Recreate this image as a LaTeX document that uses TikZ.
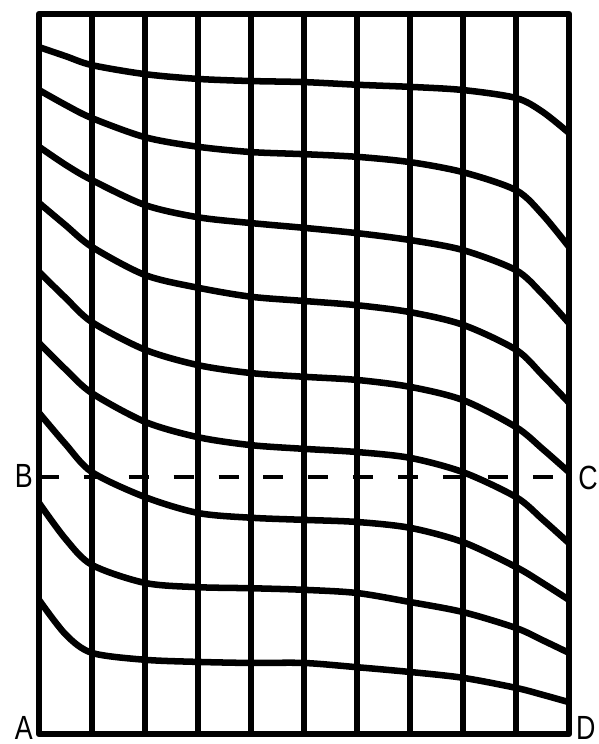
\documentclass[tikz,border=0pt]{standalone}
\usepackage{fontspec}
\setmainfont{Liberation Sans}

\begin{document}
\begin{tikzpicture}[line join=round,
    gridline/.style={line width=3.5pt},
    bentline/.style={line width=3.5pt},
    cutline/.style={line width=2.2pt, dash pattern=on 10.7pt off 13.4pt},
    letter/.style={inner sep=0pt, xscale=0.8, font=\fontsize{18}{20}\selectfont}]

\useasboundingbox (-0.736,-0.189) rectangle (10.566,13.849);

% Frame and vertical lines
\draw[gridline] (0,0) rectangle (10,13.585);
\foreach \x in {1,...,9} {
    \draw[gridline] (\x,0) -- (\x,13.585);
}

% Distorted horizontal lines
\draw[bentline] plot[smooth] coordinates {(0,12.96) (0.5,12.79) (1,12.62) (2,12.45) (3,12.36) (4,12.32) (5,12.30) (6,12.25) (7,12.21) (8,12.15) (9,12.00) (9.5,11.74) (10,11.34)};
\draw[bentline] plot[smooth] coordinates {(0,12.15) (0.5,11.87) (1,11.62) (2,11.26) (3,11.08) (4,10.98) (5,10.94) (6,10.89) (7,10.79) (8,10.60) (9,10.26) (9.5,9.80) (10,9.19)};
\draw[bentline] plot[smooth] coordinates {(0,11.08) (0.5,10.74) (1,10.45) (2,9.98) (3,9.75) (4,9.64) (5,9.55) (6,9.45) (7,9.32) (8,9.13) (9,8.75) (9.5,8.30) (10,7.75)};
\draw[bentline] plot[smooth] coordinates {(0,10.02) (0.5,9.60) (1,9.19) (2,8.66) (3,8.42) (4,8.25) (5,8.17) (6,8.09) (7,7.96) (8,7.72) (9,7.25) (9.5,6.77) (10,6.25)};
\draw[bentline] plot[smooth] coordinates {(0,8.72) (0.5,8.23) (1,7.77) (2,7.25) (3,6.96) (4,6.81) (5,6.74) (6,6.68) (7,6.55) (8,6.30) (9,5.79) (9.5,5.38) (10,4.94)};
\draw[bentline] plot[smooth] coordinates {(0,7.38) (0.5,6.88) (1,6.43) (2,5.89) (3,5.60) (4,5.45) (5,5.38) (6,5.32) (7,5.21) (8,4.94) (9,4.47) (9.5,4.05) (10,3.60)};
\draw[bentline] plot[smooth] coordinates {(0,6.06) (0.5,5.47) (1,4.94) (2,4.47) (3,4.17) (4,4.08) (5,4.04) (6,4.00) (7,3.89) (8,3.62) (9,3.15) (9.5,2.85) (10,2.53)};
\draw[bentline] plot[smooth] coordinates {(0,4.36) (0.5,3.68) (1,3.19) (2,2.85) (3,2.77) (4,2.75) (5,2.72) (6,2.66) (7,2.49) (8,2.30) (9,2.00) (9.5,1.77) (10,1.53)};
\draw[bentline] plot[smooth] coordinates {(0,2.53) (0.5,1.88) (1,1.53) (2,1.40) (3,1.36) (4,1.34) (5,1.34) (6,1.26) (7,1.17) (8,1.06) (9,0.87) (9.5,0.74) (10,0.60)};

% Section line B--C
\coordinate (bl) at (0,4.85);
\coordinate (cr) at (10,4.85);
\draw[cutline] (bl) -- (cr);

% Corner letters
\node[letter, anchor=east] (B) at (-0.11,4.87) {B};
\node[letter, anchor=west] (C) at (10.17,4.83) {C};
\node[letter, anchor=east] (A) at (-0.11,0.11) {A};
\node[letter, anchor=west] (D) at (10.13,0.11) {D};

\end{tikzpicture}
\end{document}
